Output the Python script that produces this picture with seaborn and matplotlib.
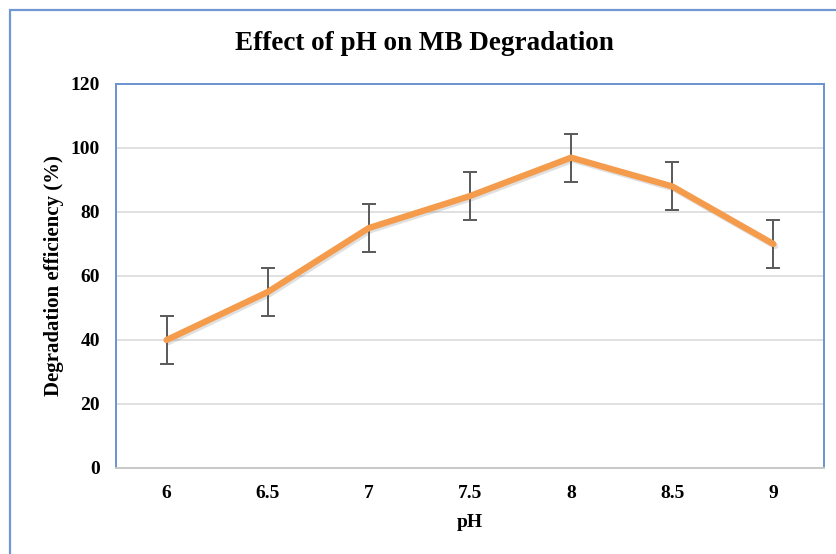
import matplotlib
matplotlib.use("Agg")
import matplotlib.pyplot as plt
import matplotlib.patheffects as pe
from matplotlib.patches import Rectangle
import seaborn as sns
import pandas as pd

# Degradation efficiency of methylene blue versus solution pH
ph_labels = ["6", "6.5", "7", "7.5", "8", "8.5", "9"]
ph_values = [6, 6.5, 7, 7.5, 8, 8.5, 9]
efficiency = [40, 55, 75, 85, 97, 88, 70]
error = [7.5, 7.5, 7.5, 7.5, 7.5, 7.5, 7.5]
y_ticks = [0, 20, 40, 60, 80, 100, 120]

df = pd.DataFrame({"pH": ph_values, "efficiency": efficiency, "err": error})

sns.set_theme(style="white")
plt.rcParams["font.family"] = ["Liberation Serif", "DejaVu Serif"]
plt.rcParams["font.weight"] = "bold"
plt.rcParams["text.color"] = "black"
plt.rcParams["axes.labelcolor"] = "black"
plt.rcParams["xtick.color"] = "black"
plt.rcParams["ytick.color"] = "black"

W, H = 837, 554
fig = plt.figure(figsize=(W / 100, H / 100), dpi=100)
fig.patch.set_facecolor("white")

# chart-area frame (left and top edges visible)
fig.patches.append(Rectangle((9.5 / W, -0.1), 1.2, (H - 10) / H + 0.1,
                             transform=fig.transFigure, fill=False,
                             edgecolor="#6F98D2", linewidth=1.6))

left, right, top, bottom = 116, 824, 84, 468
ax = fig.add_axes([left / W, 1 - bottom / H, (right - left) / W, (bottom - top) / H])

ax.errorbar(df["pH"], df["efficiency"], yerr=df["err"], fmt="none",
            ecolor="#595959", elinewidth=1.4, capsize=5, capthick=1.4, zorder=2)
sns.lineplot(data=df, x="pH", y="efficiency", ax=ax, color="#F59B4C",
             linewidth=4.5, zorder=3, solid_capstyle="round",
             path_effects=[pe.SimpleLineShadow(offset=(1.2, -1.5), alpha=0.18, shadow_color="#555555"),
                           pe.Normal()])

ax.set_xlim(5.75, 9.25)
ax.set_ylim(0, 120)
ax.set_yticks(y_ticks)
ax.set_yticklabels([str(v) for v in y_ticks], fontsize=14, fontweight="bold")
ax.set_xticks(ph_values)
ax.set_xticklabels(ph_labels, fontsize=14, fontweight="bold")
ax.tick_params(axis="y", length=0, pad=11.5)
ax.tick_params(axis="x", length=0, pad=12)

ax.grid(axis="y", color="#D9D9D9", linewidth=1.1)
ax.set_axisbelow(True)
for side in ["left", "top", "right"]:
    ax.spines[side].set_color("#6A93CF")
    ax.spines[side].set_linewidth(1.4)
ax.spines["bottom"].set_color("#C8C8C8")
ax.spines["bottom"].set_linewidth(1.4)

ax.set_xlabel("pH", fontsize=14, fontweight="bold", labelpad=9)
ax.set_ylabel("Degradation efficiency (%)", fontsize=15, fontweight="bold", labelpad=4.5)

fig.text(424 / W, 1 - 43 / H, "Effect of pH on MB Degradation", ha="center", va="center",
         fontsize=19.5, fontweight="bold")

fig.savefig("out.png", dpi=100)
